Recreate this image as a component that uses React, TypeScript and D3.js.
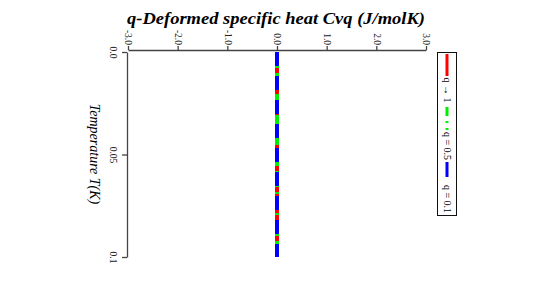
import React, { useEffect, useRef } from 'react';
import * as d3 from 'd3';

// Temperature samples (K) and specific heat for each q (all at zero)
const temperature = [0, 0.01, 0.02, 0.03, 0.04, 0.05, 0.06, 0.07, 0.08, 0.09, 0.1];
const cvqOne = [0, 0, 0, 0, 0, 0, 0, 0, 0, 0, 0];
const cvqHalf = [0, 0, 0, 0, 0, 0, 0, 0, 0, 0, 0];
const cvqTenth = [0, 0, 0, 0, 0, 0, 0, 0, 0, 0, 0];

const xMajor = [-3, -2, -1, 0, 1, 2, 3];
const xTickLabels = ['-3.0', '-2.0', '-1.0', '0.0', '1.0', '2.0', '3.0'];
const xMinor = [-2.5, -1.5, -0.5, 0.5, 1.5, 2.5];
const yTicks = [0, 0.05, 0.1];
const yTickLabels = ['0.0', '0.05', '0.1'];

const seriesNames = ['q \u2192 1', 'q = 0.5', 'q = 0.1'];

const W = 545;
const H = 284;
const FONT = '"Liberation Serif", "Times New Roman", serif';

const App: React.FC = () => {
  const svgRef = useRef<SVGSVGElement>(null);

  useEffect(() => {
    if (!svgRef.current) return;
    const svg = d3.select(svgRef.current);
    svg.selectAll('*').remove();

    const x = d3.scaleLinear().domain([-3, 3]).range([128, 426]);
    const y = d3.scaleLinear().domain([0, 0.1]).range([52, 257]);

    const axisColor = '#444';

    // Title
    svg.append('text')
      .attr('x', 276)
      .attr('y', 24)
      .attr('text-anchor', 'middle')
      .attr('font-family', FONT)
      .attr('font-size', 17)
      .attr('font-style', 'italic')
      .attr('font-weight', 'bold')
      .attr('textLength', 298)
      .attr('lengthAdjust', 'spacingAndGlyphs')
      .text('q-Deformed specific heat Cvq (J/molK)');

    // Top value axis
    const gx = svg.append('g').attr('transform', 'translate(0,50)');
    gx.call(d3.axisTop(x).tickValues(xMinor).tickSize(2).tickSizeOuter(0).tickFormat(() => ''));
    gx.call(
      d3.axisTop(x)
        .tickValues(xMajor)
        .tickSize(4)
        .tickSizeOuter(0)
        .tickFormat((_d, i) => xTickLabels[i])
    );
    gx.selectAll('path, line').attr('stroke', axisColor).attr('stroke-width', 1.3);
    gx.selectAll('text')
      .attr('x', 0)
      .attr('y', 0)
      .attr('dy', '0.35em')
      .attr('transform', 'translate(0,-5) rotate(90)')
      .attr('text-anchor', 'end')
      .attr('font-family', FONT)
      .attr('font-size', 9.5)
      .attr('fill', '#222');

    // Left temperature axis
    const gy = svg.append('g').attr('transform', 'translate(127,0)');
    gy.call(
      d3.axisLeft(y)
        .tickValues(yTicks)
        .tickSize(5)
        .tickSizeOuter(0)
        .tickFormat((_d, i) => yTickLabels[i])
    );
    gy.selectAll('path, line').attr('stroke', axisColor).attr('stroke-width', 1.3);
    gy.selectAll('text')
      .attr('x', 0)
      .attr('y', 0)
      .attr('dy', '0.35em')
      .attr('transform', 'translate(-14,0) rotate(90)')
      .attr('text-anchor', 'middle')
      .attr('font-family', FONT)
      .attr('font-size', 9.5)
      .attr('fill', '#222');

    svg.append('text')
      .attr('transform', 'translate(95,154) rotate(90)')
      .attr('text-anchor', 'middle')
      .attr('dy', '0.35em')
      .attr('font-family', FONT)
      .attr('font-size', 14)
      .attr('font-style', 'italic')
      .text('Temperature T(K)');

    // Series (plotted rotated: value on x, temperature on y)
    const line = d3.line<number>()
      .x(d => x(d))
      .y((_d, i) => y(temperature[i]));

    const series = [
      { values: cvqOne, color: '#ff0000', dash: null as string | null },
      { values: cvqHalf, color: '#00ee00', dash: '9,5,2,5' },
      { values: cvqTenth, color: '#0000ff', dash: '14,10' },
    ];

    series.forEach(s => {
      svg.append('path')
        .datum(s.values)
        .attr('d', line)
        .attr('fill', 'none')
        .attr('stroke', s.color)
        .attr('stroke-width', 4)
        .attr('stroke-dasharray', s.dash);
    });

    // Legend
    const lg = svg.append('g');
    lg.append('rect')
      .attr('x', 437.5)
      .attr('y', 52.5)
      .attr('width', 19)
      .attr('height', 163)
      .attr('fill', 'white')
      .attr('stroke', '#111')
      .attr('stroke-width', 1);

    const legendRows = [
      { y0: 54, y1: 76, ty: 90 },
      { y0: 107, y1: 130, ty: 146 },
      { y0: 162, y1: 177, ty: 199 },
    ];
    legendRows.forEach((r, i) => {
      lg.append('line')
        .attr('x1', 447).attr('x2', 447)
        .attr('y1', r.y0).attr('y2', r.y1)
        .attr('stroke', series[i].color)
        .attr('stroke-width', 3)
        .attr('stroke-dasharray', i === 1 ? '9,5,2,5' : null);
      lg.append('text')
        .attr('transform', `translate(447,${r.ty}) rotate(90)`)
        .attr('text-anchor', 'middle')
        .attr('dy', '0.35em')
        .attr('font-family', FONT)
        .attr('font-size', 10)
        .text(seriesNames[i]);
    });
  }, []);

  return (
    <svg
      ref={svgRef}
      width={W}
      height={H}
      viewBox={`0 0 ${W} ${H}`}
      style={{ position: 'absolute', left: 0, top: 0, background: '#fff' }}
    />
  );
};

export default App;
